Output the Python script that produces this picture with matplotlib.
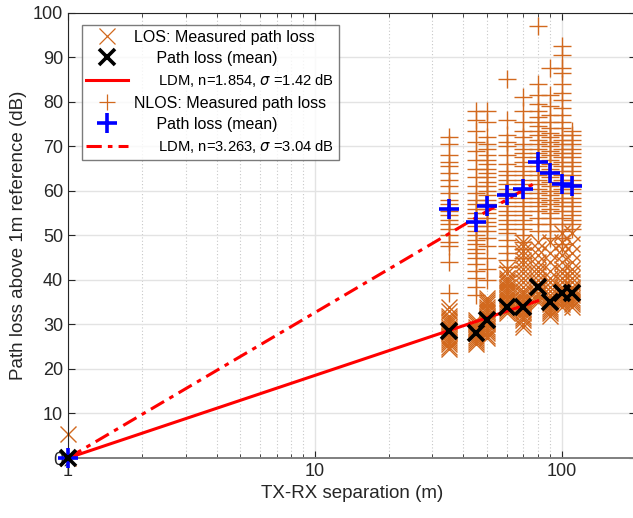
"""
Path loss vs TX-RX separation: LOS / NLOS measurements with log-distance fits.
"""
import matplotlib
matplotlib.use("Agg")
import matplotlib.pyplot as plt
import numpy as np
from matplotlib.lines import Line2D
from matplotlib.ticker import FixedLocator, NullFormatter, LogLocator

plt.rcParams["font.family"] = ["Liberation Sans", "DejaVu Sans"]
plt.rcParams["mathtext.fontset"] = "dejavusans"

ORANGE = "#D2691E"

# measurement distances (m)
distances = [35, 45, 50, 60, 70, 80, 90, 100, 110]

# LOS measured path loss above 1 m reference (dB), per distance
los_1m = [5.5, 0.0]
los_measured = [
    [34.0, 33.0, 32.0, 31.5, 31.0, 30.5, 30.0, 29.5, 29.0, 28.5, 28.0, 27.5,
     27.0, 26.5, 26.0, 25.5, 25.0, 24.5],
    [31.0, 30.5, 30.0, 29.5, 29.0, 28.5, 28.0, 27.5, 27.0, 26.5, 26.0, 25.5],
    [36.0, 35.5, 35.0, 34.5, 34.0, 33.5, 33.0, 32.5, 32.0, 31.5, 31.0, 30.5,
     30.0, 29.5, 29.0, 28.5, 28.0, 27.5, 27.0],
    [42.5, 41.5, 40.5, 40.0, 39.5, 39.0, 38.5, 38.0, 37.5, 37.0, 36.5, 36.0,
     35.5, 35.0, 34.5, 34.0, 33.5, 33.0, 32.5],
    [48.5, 47.5, 46.5, 45.5, 44.5, 43.5, 42.5, 41.5, 40.5, 39.5, 38.5, 37.5,
     37.0, 36.5, 36.0, 35.5, 35.0, 34.5, 34.0, 33.5, 33.0, 32.5, 32.0, 31.5,
     31.0, 30.0, 29.5],
    [48.5, 47.0, 45.5, 44.0, 43.0, 42.0, 41.0, 40.0, 39.0, 38.0, 37.0, 36.5,
     36.0, 35.5, 35.0],
    [48.5, 46.0, 44.0, 42.0, 40.5, 39.5, 38.5, 37.5, 36.5, 36.0, 35.5, 35.0,
     34.5, 34.0, 33.5, 33.0, 32.5, 32.0],
    [50.5, 48.5, 47.0, 45.5, 44.0, 42.5, 41.5, 40.5, 39.5, 38.5, 38.0, 37.5,
     37.0, 36.5, 36.0, 35.5, 35.0, 34.5, 34.0],
    [50.5, 48.0, 46.0, 44.0, 42.5, 41.5, 40.5, 39.5, 38.5, 38.0, 37.5, 37.0,
     36.5, 36.0, 35.5, 35.0, 34.5, 34.0],
]
los_mean = [28.5, 28.0, 31.0, 34.0, 34.0, 38.5, 35.0, 37.0, 37.0]

# NLOS measured path loss above 1 m reference (dB), per distance
nlos_1m = [0.0]
nlos_measured = [
    [72.0, 70.5, 68.0, 66.5, 65.5, 64.0, 62.5, 61.0, 59.5, 58.0, 57.0, 56.0,
     55.5, 54.5, 53.5, 52.5, 51.5, 50.0, 48.5, 47.5, 44.0, 37.0],
    [78.0, 76.0, 73.5, 71.0, 69.0, 67.0, 65.0, 63.0, 61.0, 59.5, 58.0, 57.0,
     56.0, 55.0, 54.0, 53.0, 52.0, 51.0, 50.0, 49.0, 48.0, 47.0, 46.0, 45.0,
     43.5, 42.0, 40.5, 38.5, 36.5],
    [78.0, 75.5, 72.0, 70.5, 69.5, 68.0, 67.0, 66.0, 65.0, 64.0, 63.0, 62.0,
     61.0, 60.0, 59.0, 58.0, 57.0, 56.0, 55.0, 54.0, 53.0, 52.0, 51.0, 49.5,
     47.5, 45.0, 42.5, 40.0],
    [85.0, 76.0, 72.5, 71.0, 70.0, 68.0, 66.0, 64.5, 63.5, 62.5, 61.5, 60.5,
     59.5, 58.5, 57.5, 56.5, 55.5, 54.5, 53.5, 52.5, 51.5, 50.5, 49.0, 47.5,
     46.0, 44.5, 43.0],
    [81.0, 78.0, 75.5, 73.5, 72.0, 70.5, 69.5, 68.5, 67.5, 66.5, 65.5, 64.5,
     63.5, 62.5, 61.5, 60.5, 59.5, 58.5, 57.5, 56.5, 55.5, 54.5, 53.5, 52.5,
     51.5, 50.0, 48.5, 47.0, 45.0],
    [97.0, 84.0, 81.5, 79.5, 78.0, 76.5, 75.5, 74.5, 73.5, 72.5, 71.5, 70.5,
     69.5, 68.5, 67.5, 66.5, 65.5, 64.5, 63.5, 62.5, 61.5, 60.5, 59.5, 58.5,
     57.5, 56.5, 55.5, 54.0, 52.5, 51.0],
    [87.5, 81.5, 79.0, 77.0, 75.5, 74.0, 73.0, 72.0, 71.0, 70.0, 69.0, 68.0,
     67.0, 66.0, 65.0, 64.0, 63.0, 62.0, 61.0, 60.0, 59.0, 58.0, 57.0, 56.0,
     55.0, 54.0, 52.5, 51.0, 49.5],
    [92.5, 90.5, 87.5, 86.5, 84.0, 82.0, 80.5, 78.5, 77.0, 75.5, 74.0, 72.5,
     71.5, 70.5, 69.5, 68.5, 67.5, 66.5, 65.5, 64.5, 63.5, 62.5, 61.5, 60.5,
     59.5, 58.5, 57.5, 56.5, 55.5, 54.0, 52.5, 51.0, 49.5, 48.0],
    [73.5, 72.5, 71.5, 70.5, 69.5, 68.5, 67.5, 66.5, 65.5, 64.5, 63.5, 62.5,
     61.5, 60.5, 59.5, 58.5, 57.5, 56.5, 55.5, 54.5, 53.5, 52.5, 51.5],
]
nlos_mean = [56.0, 53.0, 56.5, 59.0, 60.5, 66.5, 64.0, 61.5, 61.0]

# log-distance model fits
n_los, sigma_los = 1.854, 1.42
n_nlos, sigma_nlos = 3.263, 3.04
fit_range = [1, 80]


def flatten(values):
    xs, ys = [], []
    for d, vals in zip(distances, values):
        xs += [d] * len(vals)
        ys += vals
    return xs, ys


fig = plt.figure(figsize=(6.33, 5.18), dpi=100)
ax = fig.add_axes([0.1074, 0.1158, 0.897, 0.8597])

x_los, y_los = flatten(los_measured)
x_nlos, y_nlos = flatten(nlos_measured)
x_los = [1] * len(los_1m) + x_los
y_los = los_1m + y_los
x_nlos = [1] * len(nlos_1m) + x_nlos
y_nlos = nlos_1m + y_nlos

ax.plot(x_los, y_los, "x", color=ORANGE, ms=12, mew=1.0, zorder=2, clip_on=False)
ax.plot(x_nlos, y_nlos, "+", color=ORANGE, ms=13, mew=1.0, zorder=2, clip_on=False)

d_fit = np.logspace(np.log10(fit_range[0]), np.log10(fit_range[1]), 50)
ax.plot(d_fit, 10 * n_los * np.log10(d_fit), "-", color="red", lw=2.2, zorder=3)
ax.plot(d_fit, 10 * n_nlos * np.log10(d_fit), "-.", color="red", lw=2.2,
        dashes=(5, 2, 1.5, 2), zorder=3)

ax.plot([1] + distances, [0.0] + nlos_mean, "+", color="blue", ms=14, mew=2.6,
        zorder=4, clip_on=False)
ax.plot([1] + distances, [0.0] + los_mean, "x", color="black", ms=11.5, mew=2.6,
        zorder=5, clip_on=False)

ax.set_xscale("log")
ax.set_xlim(1, 200)
ax.set_ylim(0, 100)
ax.xaxis.set_major_locator(FixedLocator([1, 10, 100]))
ax.set_xticklabels(["1", "10", "100"])
ax.xaxis.set_minor_locator(LogLocator(base=10, subs=np.arange(2, 10)))
ax.xaxis.set_minor_formatter(NullFormatter())
ax.set_yticks(np.arange(0, 101, 10))

ax.grid(True, which="major", color="#e3e3e3", lw=1.0, ls="-")
ax.grid(True, which="minor", axis="x", color="#c8c8c8", lw=0.8, ls=(0, (1, 2)))
ax.set_axisbelow(True)

ax.tick_params(which="both", direction="in", top=True, right=True,
               labelsize=13, labelcolor="#262626", color="#262626")
ax.tick_params(which="major", length=5)
ax.tick_params(which="minor", length=3)
for side in ["top", "left", "right"]:
    ax.spines[side].set_color("#262626")
ax.spines["bottom"].set_color("#7f7f7f")
ax.spines["bottom"].set_linewidth(1.4)

ax.set_xlabel("TX-RX separation (m)", fontsize=13.5, color="#262626")
ax.set_ylabel("Path loss above 1m reference (dB)", fontsize=13.5, color="#262626")

handles = [
    Line2D([], [], ls="none", marker="x", color=ORANGE, ms=11, mew=0.9),
    Line2D([], [], ls="none", marker="x", color="black", ms=11.5, mew=2.6),
    Line2D([], [], ls="-", color="red", lw=2.2),
    Line2D([], [], ls="none", marker="+", color=ORANGE, ms=12, mew=0.9),
    Line2D([], [], ls="none", marker="+", color="blue", ms=14, mew=2.6),
    Line2D([], [], ls="-.", color="red", lw=2.2, dashes=(5, 2, 1.5, 2)),
]
labels = [
    "LOS: Measured path loss",
    "     Path loss (mean)",
    f"      LDM, n={n_los}, $\\sigma$ ={sigma_los} dB",
    "NLOS: Measured path loss",
    "     Path loss (mean)",
    f"      LDM, n={n_nlos}, $\\sigma$ ={sigma_nlos} dB",
]
leg = ax.legend(handles, labels, loc="upper left", bbox_to_anchor=(0.024, 0.973),
                fontsize=11.5, frameon=True, fancybox=False, handlelength=2.6,
                handletextpad=0.4, labelspacing=0.4, borderpad=0.3,
                borderaxespad=0.0)
leg.get_frame().set_edgecolor("#5a5a5a")
leg.get_frame().set_linewidth(1.0)
for i in (2, 5):
    leg.get_texts()[i].set_fontsize(10.6)

fig.savefig("out.png", dpi=100)
